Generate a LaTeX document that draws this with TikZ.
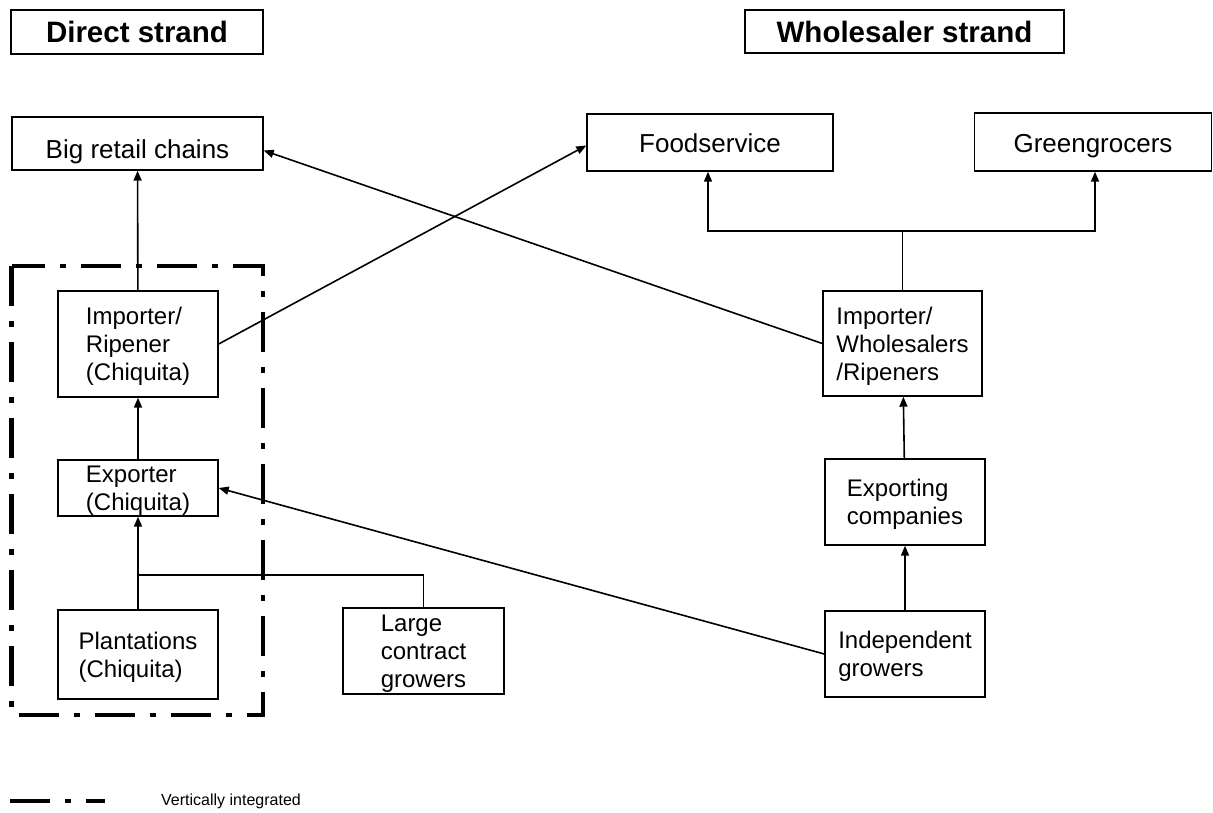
\documentclass[tikz,border=0pt]{standalone}
\usepackage{fontspec}
\setmainfont{Liberation Sans}
\usetikzlibrary{arrows.meta,positioning}
\begin{document}
\begin{tikzpicture}[x=1pt,y=-1pt,
  box/.style={draw,line width=1.4pt,inner sep=0pt,align=left,text depth=-3pt,font=\fontsize{24}{28}\selectfont},
  bigbox/.style={box,text height=20pt,text depth=0pt,font=\fontsize{26}{30}\selectfont},
  head/.style={box,text depth=0pt,font=\fontsize{29.5}{32}\selectfont\bfseries},
  link/.style={line width=1.6pt,-{Triangle[length=10pt,width=8pt]}},
  integ/.style={line width=4.5pt,dash pattern=on 40pt off 15pt on 6pt off 15pt}]
\useasboundingbox (0,0) rectangle (1213,812);
% strand titles
\node[head,minimum width=252pt,minimum height=44pt] (direct) at (137,32) {Direct strand};
\node[head,minimum width=319pt,minimum height=43pt] (whole) at (904.5,31.5) {Wholesaler strand};
% top row
\node[bigbox,text height=29pt,minimum width=251pt,minimum height=53pt] (retail) at (137.5,143.5) {Big retail chains};
\node[bigbox,minimum width=246pt,minimum height=57pt] (food) at (710,142.5) {Foodservice};
\node[bigbox,minimum width=237pt,minimum height=58pt] (green) at (1093,142) {Greengrocers};
% direct strand
\node[box,minimum width=160pt,minimum height=106pt] (impR) at (138,344) {Importer/\\Ripener\\(Chiquita)};
\node[box,text depth=-7pt,minimum width=160pt,minimum height=56pt] (expC) at (138,488) {Exporter\\(Chiquita)};
\node[box,minimum width=160pt,minimum height=89pt] (plant) at (138,654.5) {Plantations\\(Chiquita)};
\node[box,minimum width=161pt,minimum height=86pt] (large) at (423.5,651) {Large\\contract\\growers};
% wholesaler strand
\node[box,minimum width=159pt,minimum height=105pt] (impW) at (902.5,343.5) {Importer/\\Wholesalers\\/Ripeners};
\node[box,minimum width=160pt,minimum height=86pt] (expW) at (905,502) {Exporting\\companies};
\node[box,minimum width=160pt,minimum height=86pt] (indep) at (905,654) {Independent\\growers};
\coordinate (jL) at (138,575);
\coordinate (jW) at (902.5,231);
% vertically integrated frame
\draw[integ] (11.5,266) rectangle (263,715);
% flows
\draw[link] (impR) -- (retail);
\draw[link] (expC) -- (impR);
\draw[link] (plant) -- (expC);
\draw[line width=1.6pt] (large.north) |- (jL);
\draw[link] (impR.east) -- ([yshift=-3pt]food.west);
\draw[link] (impW.west) -- ([yshift=-7pt]retail.east);
\draw[link] (indep.west) -- (expC.east);
\draw[link] (indep) -- (expW);
\draw[link] (expW) -- (impW);
\draw[line width=1.6pt] (impW.north) -- (jW);
\draw[link] (jW) -| ([xshift=-2pt]food.south);
\draw[link] (jW) -| ([xshift=2pt]green.south);
% legend
\coordinate (lg1) at (10,801);
\coordinate (lg2) at (105,801);
\draw[integ] (lg1) -- (lg2);
\node[anchor=west,inner sep=0pt,font=\fontsize{16}{19}\selectfont] (legtxt) at (161,801) {Vertically integrated};
\end{tikzpicture}
\end{document}
